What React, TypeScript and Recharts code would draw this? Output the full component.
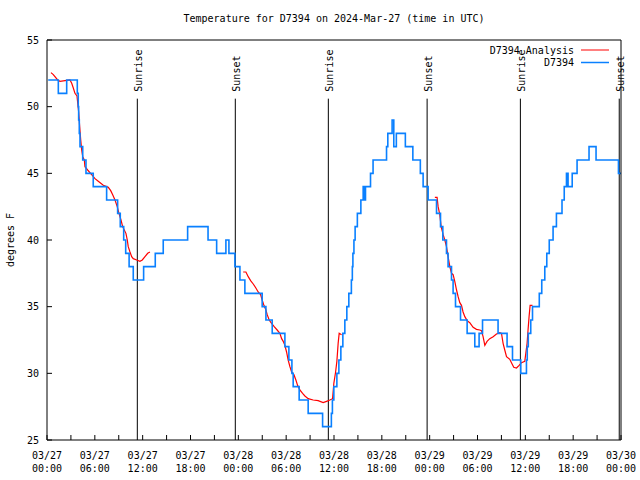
import React from 'react';
import { LineChart, Line, XAxis, YAxis, ReferenceLine, Legend } from 'recharts';

const FONT = '"DejaVu Sans Mono", monospace';

// hours since 03/27 00:00 UTC -> deg F (station reports whole degrees, drawn stepped)
const observed: [number, number][] = [
  [0.15, 52], [1.42, 51], [2.47, 52], [3.8, 51], [3.92, 50], [3.97, 49], [4.05, 48], [4.14, 47],
  [4.48, 46], [4.89, 45], [5.8, 44], [7.48, 43], [8.86, 42], [9.19, 41], [9.62, 40], [9.87, 39],
  [10.3, 38], [10.82, 37], [12.12, 38], [13.58, 39], [14.58, 40], [17.64, 41], [20.2, 40],
  [21.28, 39], [22.44, 40], [22.82, 39], [23.57, 38], [24.2, 37], [24.82, 36], [26.99, 35],
  [27.46, 34], [28.25, 33], [29.84, 32], [30.34, 31], [30.72, 30], [30.88, 29], [31.63, 28],
  [32.76, 27], [34.57, 26], [35.67, 27], [35.8, 28], [35.98, 29], [36.36, 30], [36.61, 31],
  [36.86, 32], [37.11, 33], [37.36, 34], [37.61, 35], [37.86, 36], [38.18, 37], [38.3, 38],
  [38.37, 39], [38.5, 40], [38.65, 41], [38.93, 42], [39.37, 43], [39.66, 44], [39.8, 43],
  [39.95, 44], [40.58, 45], [40.9, 46], [42.59, 47], [42.75, 48], [43.29, 49], [43.5, 47],
  [43.82, 48], [44.95, 47], [45.89, 46], [46.83, 45], [47.18, 44], [47.81, 43], [48.86, 42],
  [49.36, 41], [49.65, 40], [50.11, 39], [50.31, 38], [50.74, 37], [50.94, 36], [51.24, 35],
  [51.87, 34], [52.7, 33], [53.66, 32], [54.2, 33], [54.63, 34], [56.58, 33], [57.71, 32],
  [58.39, 31], [59.43, 30], [60.14, 31], [60.24, 32], [60.37, 33], [60.68, 34], [60.9, 35],
  [61.75, 36], [62.06, 37], [62.44, 38], [62.69, 39], [63.0, 40], [63.48, 41], [63.9, 42],
  [64.6, 43], [64.88, 44], [65.16, 45], [65.36, 44], [65.88, 45], [66.49, 46], [67.99, 47],
  [68.87, 46], [71.68, 45], [72, 45],
];

// analysis runs (gaps between them)
const analysis1: [number, number][] = [
  [0.5, 52.55], [0.79, 52.4], [1.34, 52.0], [1.63, 51.9], [2.26, 51.95], [2.88, 52.0], [3.1, 51.75],
  [3.3, 51.4], [3.51, 51.0], [3.76, 50.8], [3.97, 49.6], [4.1, 48.5], [4.23, 47.5], [4.35, 46.75],
  [4.48, 46.25], [4.68, 46.0], [4.76, 45.5], [5.1, 45.25], [5.6, 44.9], [6.02, 44.6], [6.43, 44.4],
  [7.06, 44.1], [7.69, 43.95], [7.99, 43.7], [8.24, 43.4], [8.53, 43.0], [8.81, 42.5], [9.03, 42.0],
  [9.28, 41.5], [9.49, 41.0], [9.69, 40.75], [9.9, 40.5], [10.07, 40.0], [10.19, 39.5], [10.41, 39.1],
  [10.62, 38.75], [10.82, 38.6], [11.25, 38.5], [11.66, 38.4], [11.95, 38.5], [12.29, 38.75],
  [12.63, 39.0], [12.91, 39.1],
];
const analysis2: [number, number][] = [
  [24.61, 37.6], [24.95, 37.6], [25.24, 37.25], [25.54, 36.95], [25.87, 36.7], [26.2, 36.4],
  [26.49, 36.1], [26.79, 35.9], [26.99, 35.5], [27.21, 35.1], [27.46, 34.75], [27.62, 34.4],
  [27.87, 34.0], [28.17, 33.75], [28.5, 33.5], [28.87, 33.25], [29.21, 33.0], [29.43, 32.6],
  [29.63, 32.4], [29.84, 32.1], [30.05, 31.6], [30.25, 31.0], [30.47, 30.5], [30.68, 30.1],
  [30.97, 29.9], [31.22, 29.5], [31.43, 29.1], [31.72, 28.75], [32.06, 28.5], [32.35, 28.3],
  [32.76, 28.1], [33.39, 28.0], [34.01, 27.95], [34.64, 27.8], [35.07, 27.9], [35.48, 28.0],
  [35.82, 28.1], [35.98, 29.25], [36.2, 30.1], [36.36, 30.9], [36.52, 32.25], [36.65, 33.0],
  [36.95, 32.9],
];
const analysis3: [number, number][] = [
  [48.65, 43.2], [48.93, 43.2], [49.06, 42.5], [49.27, 41.9], [49.44, 41.0], [49.69, 40.4],
  [49.9, 40.0], [50.11, 39.5], [50.31, 38.75], [50.53, 38.0], [50.74, 37.5], [50.94, 37.4],
  [51.15, 36.9], [51.37, 36.25], [51.57, 35.75], [51.78, 35.3], [51.99, 35.1], [52.19, 34.6],
  [52.41, 34.25], [52.7, 33.95], [53.03, 33.8], [53.45, 33.45], [53.87, 33.3], [54.29, 33.25],
  [54.5, 33.2], [54.7, 32.75], [54.92, 32.1], [55.2, 32.4], [55.54, 32.6], [55.96, 32.75],
  [56.38, 32.95], [56.8, 33.05], [57.01, 33.0], [57.21, 32.25], [57.42, 31.75], [57.64, 31.25],
  [58.05, 31.05], [58.26, 30.8], [58.55, 30.45], [58.89, 30.4], [59.22, 30.6], [59.52, 30.8],
  [59.93, 30.9], [60.06, 31.5], [60.22, 32.25], [60.34, 33.25], [60.47, 34.25], [60.6, 35.1],
  [60.9, 35.1],
];

const sunriseHours = [11.33, 35.29, 59.38];
const sunsetHours = [23.62, 47.68, 71.78];

const xTicks = [0, 3, 6, 9, 12, 15, 18, 21, 24, 27, 30, 33, 36, 39, 42, 45, 48, 51, 54, 57, 60, 63, 66, 69, 72];
const xTickDates = ['03/27', '03/27', '03/27', '03/27', '03/28', '03/28', '03/28', '03/28', '03/29', '03/29', '03/29', '03/29', '03/30'];
const xTickTimes = ['00:00', '06:00', '12:00', '18:00', '00:00', '06:00', '12:00', '18:00', '00:00', '06:00', '12:00', '18:00', '00:00'];
const yTicks = [25, 30, 35, 40, 45, 50, 55];

const toRows = (pts: [number, number][]) => pts.map(([h, t]) => ({ h, t }));

const RED = '#ff0000';
const BLUE = '#0a80ff';

function XTick(props: any) {
  const { x, y, payload } = props;
  const v = payload.value;
  if (v % 6 !== 0) return <g />;
  const i = v / 6;
  return (
    <g>
      <text x={x} y={y + 19} textAnchor="middle" fontFamily={FONT} fontSize={10} fill="#000">{xTickDates[i]}</text>
      <text x={x} y={y + 32} textAnchor="middle" fontFamily={FONT} fontSize={10} fill="#000">{xTickTimes[i]}</text>
    </g>
  );
}

const sunLabel = (text: string) => (p: any) => {
  const vb = p.viewBox || {};
  const x = (vb.x ?? 0) + 1;
  const y = (vb.y ?? 0) - 7;
  return (
    <text x={x} y={y} transform={`rotate(-90 ${x} ${y})`} dominantBaseline="central" fontFamily={FONT} fontSize={10} fill="#000">
      {text}
    </text>
  );
};

function LegendBox() {
  return (
    <svg width={220} height={30} style={{ display: 'block' }}>
      <text x={174} y={11.5} textAnchor="end" fontFamily={FONT} fontSize={10} fill="#000">D7394 Analysis</text>
      <line x1={181} x2={209} y1={8} y2={8} stroke={RED} strokeWidth={1} />
      <text x={174} y={24} textAnchor="end" fontFamily={FONT} fontSize={10} fill="#000">D7394</text>
      <line x1={181} x2={209} y1={20.5} y2={20.5} stroke={BLUE} strokeWidth={1.5} />
    </svg>
  );
}

export default function App() {
  return (
    <div style={{ position: 'absolute', left: 0, top: 0, width: 640, height: 480, background: '#fff' }}>
      <div style={{ position: 'absolute', left: 47, width: 574, top: 13, textAlign: 'center', fontFamily: FONT, fontSize: 10, lineHeight: '12px', color: '#000' }}>
        Temperature for D7394 on 2024-Mar-27 (time in UTC)
      </div>
      <LineChart width={640} height={480} margin={{ top: 39, right: 18, bottom: 0, left: 0 }}>
        <XAxis
          dataKey="h" type="number" domain={[0, 72]} ticks={xTicks} interval={0}
          height={40} tickSize={-5} tickMargin={5} stroke="#000" tickLine={{ stroke: '#000' }}
          tick={<XTick />}
        />
        <XAxis
          xAxisId="top" orientation="top" dataKey="h" type="number" domain={[0, 72]} ticks={xTicks}
          interval={0} height={1} tickSize={-5} stroke="#000" tick={false}
        />
        <YAxis
          type="number" domain={[25, 55]} ticks={yTicks} interval={0} width={47}
          tickSize={-5} tickMargin={13} stroke="#000"
          tick={{ fill: '#000', fontSize: 10, fontFamily: FONT }}
          label={{
            content: (p: any) => {
              const vb = p.viewBox || { x: 0, y: 40, height: 400 };
              const cx = vb.x + 10;
              const cy = vb.y + vb.height / 2;
              return (
                <text x={cx} y={cy} transform={`rotate(-90 ${cx} ${cy})`} textAnchor="middle" dominantBaseline="central" fontFamily={FONT} fontSize={10} fill="#000">
                  degrees F
                </text>
              );
            },
          }}
        />
        <YAxis
          yAxisId="right" orientation="right" type="number" domain={[25, 55]} ticks={yTicks}
          interval={0} width={1} tickSize={-5} stroke="#000" tick={false}
        />
        {sunriseHours.map((h) => (
          <ReferenceLine key={`sr-${h}`} segment={[{ x: h, y: 25 }, { x: h, y: 50.6 }]} stroke="#000" strokeWidth={1} label={sunLabel('Sunrise')} />
        ))}
        {sunsetHours.map((h) => (
          <ReferenceLine key={`ss-${h}`} segment={[{ x: h, y: 25 }, { x: h, y: 50.6 }]} stroke="#000" strokeWidth={1} label={sunLabel('Sunset')} />
        ))}
        <Line data={toRows(analysis1)} dataKey="t" type="linear" stroke={RED} strokeWidth={1.2} dot={false} isAnimationActive={false} />
        <Line data={toRows(analysis2)} dataKey="t" type="linear" stroke={RED} strokeWidth={1.2} dot={false} isAnimationActive={false} />
        <Line data={toRows(analysis3)} dataKey="t" type="linear" stroke={RED} strokeWidth={1.2} dot={false} isAnimationActive={false} />
        <Line data={toRows(observed)} dataKey="t" type="stepAfter" stroke={BLUE} strokeWidth={1.6} dot={false} isAnimationActive={false} />
        <Legend
          layout="horizontal" verticalAlign="middle" align="center"
          wrapperStyle={{ top: 42, left: 400, width: 220, height: 30 }}
          content={() => <LegendBox />}
        />
      </LineChart>
    </div>
  );
}
